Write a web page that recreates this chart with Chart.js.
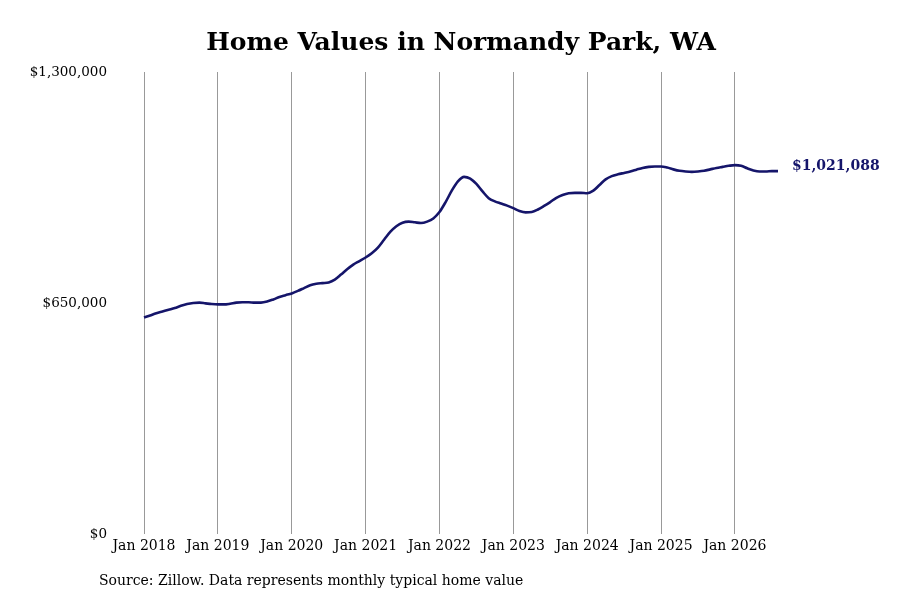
<!DOCTYPE html>
<html>
<head>
<meta charset="utf-8">
<script src="https://cdn.jsdelivr.net/npm/chart.js@4"></script>
<style>
html,body{margin:0;padding:0;background:#fff;}
#wrap{width:900px;height:600px;position:relative;}
</style>
</head>
<body>
<div id="wrap"><canvas id="c" width="900" height="600"></canvas></div>
<script>
const titleText = "Home Values in Normandy Park, WA";
const sourceText = "Source: Zillow. Data represents monthly typical home value";
const years = [2018, 2019, 2020, 2021, 2022, 2023, 2024, 2025, 2026];
const monthNames = ["Jan","Feb","Mar","Apr","May","Jun","Jul","Aug","Sep","Oct","Nov","Dec"];
const yTicks = [0, 650000, 1300000];

const v2018 = [609000, 615000, 621000, 626000, 631000, 636000, 642000, 647000, 650000, 651000, 649000, 647000];
const v2019 = [646000, 646000, 648000, 651000, 652000, 652000, 651000, 651000, 654000, 660000, 667000, 672000];
const v2020 = [677000, 684000, 692000, 700000, 704000, 706000, 708000, 716000, 730000, 745000, 758000, 768000];
const v2021 = [778000, 790000, 806000, 828000, 850000, 866000, 876000, 879000, 877000, 875000, 879000, 888000];
const v2022 = [906000, 934000, 966000, 992000, 1005000, 1000000, 985000, 964000, 945000, 936000, 930000, 924000];
const v2023 = [917000, 909000, 905000, 906000, 913000, 923000, 934000, 946000, 954000, 959000, 960000, 960000];
const v2024 = [959000, 966000, 982000, 998000, 1007000, 1012000, 1016000, 1020000, 1025000, 1030000, 1033000, 1034000];
const v2025 = [1034000, 1031000, 1026000, 1022000, 1020000, 1019000, 1020000, 1022000, 1026000, 1030000, 1033000, 1036000];
const v2026 = [1038000, 1036000, 1029000, 1023000, 1020000, 1020000, 1021000, 1021088];

const values = [].concat(v2018, v2019, v2020, v2021, v2022, v2023, v2024, v2025, v2026);
const labels = [];
years.forEach(y => monthNames.forEach(m => labels.push(m + " " + y)));
labels.length = values.length;

const navy = "#15156a";
const serif = "'DejaVu Serif', 'Liberation Serif', serif";
const fmt = v => "$" + Math.round(v).toLocaleString("en-US");

const extras = {
  id: "extras",
  afterDraw(chart) {
    const ctx = chart.ctx;
    ctx.save();
    ctx.fillStyle = "#000";
    ctx.font = "bold 25px " + serif;
    ctx.textAlign = "center";
    ctx.textBaseline = "middle";
    ctx.fillText(titleText, 461, 43);
    ctx.font = "14px " + serif;
    ctx.textAlign = "left";
    ctx.fillText(sourceText, 99, 581);
    const meta = chart.getDatasetMeta(0);
    const last = meta.data[meta.data.length - 1];
    ctx.fillStyle = navy;
    ctx.font = "bold 14px " + serif;
    ctx.fillText(fmt(values[values.length - 1]), last.x + 14, 166);
    ctx.restore();
  }
};

new Chart(document.getElementById("c"), {
  type: "line",
  data: {
    labels: labels,
    datasets: [{
      data: values,
      borderColor: navy,
      borderWidth: 2.6,
      pointRadius: 0,
      fill: false,
      tension: 0.4,
      cubicInterpolationMode: "monotone"
    }]
  },
  options: {
    responsive: false,
    animation: false,
    devicePixelRatio: 1,
    layout: { padding: { top: 72, right: 122, bottom: 36, left: 0 } },
    plugins: { legend: { display: false }, title: { display: false }, tooltip: { enabled: false } },
    scales: {
      x: {
        type: "category",
        offset: false,
        border: { display: false },
        grid: {
          drawTicks: false,
          color: "#999999",
          lineWidth: 1
        },
        ticks: {
          autoSkip: false,
          maxRotation: 0,
          padding: 4,
          color: "#000",
          font: { family: serif, size: 14 },
          callback: function(val, idx) {
            const l = this.getLabelForValue(val);
            return l.startsWith("Jan") ? l : null;
          }
        },
        afterFit(scale) { scale.height = 30; }
      },
      y: {
        min: 0,
        max: 1300000,
        border: { display: false },
        grid: { display: false, drawTicks: false },
        afterBuildTicks(scale) { scale.ticks = yTicks.map(v => ({ value: v })); },
        ticks: {
          padding: 37,
          color: "#000",
          font: { family: serif, size: 13.5 },
          callback: v => fmt(v)
        },
        afterFit(scale) { scale.width = 144; }
      }
    }
  },
  plugins: [extras]
});
</script>
</body>
</html>
